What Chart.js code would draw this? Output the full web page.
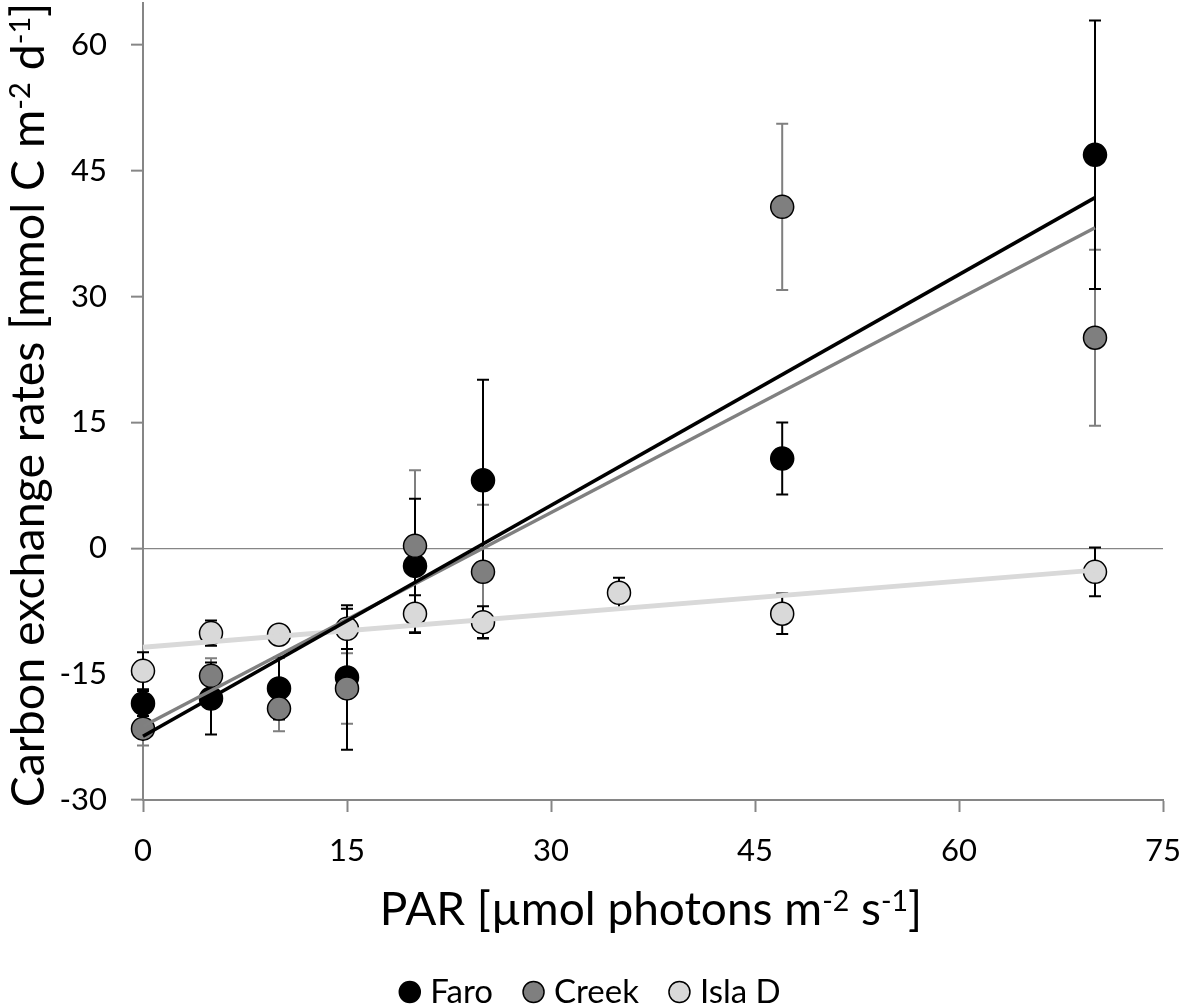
<!DOCTYPE html>
<html>
<head>
<meta charset="utf-8">
<script src="https://cdn.jsdelivr.net/npm/chart.js@4.4.1/dist/chart.umd.min.js"></script>
<style>
  html, body { margin: 0; padding: 0; background: #fff; }
  #wrap { width: 1184px; height: 1006px; }
</style>
</head>
<body>
<div id="wrap"><canvas id="chart" width="1184" height="1006"></canvas></div>
<script>
// Axis ticks
const xTicks = [0, 15, 30, 45, 60, 75];
const yTicks = [-30, -15, 0, 15, 30, 45, 60];

// Series (PAR vs carbon exchange, mean and error)
const seriesNames = ['Faro', 'Creek', 'Isla D'];

const faroX = [0, 5, 10, 15, 20, 25, 47, 70];
const faroY = [-18.5, -17.9, -16.7, -15.4, -2.1, 8.1, 10.7, 46.9];
const faroErr = [1.5, 4.3, 3.7, 8.6, 8.0, 12.0, 4.3, 16.0];

const creekX = [0, 5, 10, 15, 20, 25, 47, 70];
const creekY = [-21.5, -15.2, -19.1, -16.7, 0.3, -2.8, 40.7, 25.1];
const creekErr = [2.0, 2.1, 2.7, 4.2, 9.0, 8.0, 9.9, 10.5];

const islaX = [0, 5, 10, 15, 20, 25, 35, 47, 70];
const islaY = [-14.6, -10.1, -10.3, -9.6, -7.8, -8.8, -5.3, -7.8, -2.8];
const islaErr = [2.2, 1.5, 1.0, 2.4, 2.2, 1.9, 1.8, 2.4, 2.9];

// Linear trend lines (end points)
const trendX = [0, 70];
const faroTrend = [-22.4, 41.8];
const creekTrend = [-21.2, 38.2];
const islaTrend = [-11.8, -2.6];

const AXIS_GREY = '#868686';
const FONT = 'Lato, "Open Sans", sans-serif';

function toPoints(xs, ys) {
    return xs.map((x, i) => ({ x: x, y: ys[i] }));
}

// draws text with superscript parts, centred on cx
function drawRich(ctx, parts, cx, baseY, size) {
    let total = 0;
    parts.forEach(p => {
        ctx.font = (p.sup ? size * 0.62 : size) + 'px ' + FONT;
        p.w = ctx.measureText(p.t).width;
        total += p.w;
    });
    let x = cx - total / 2;
    ctx.textAlign = 'left';
    ctx.textBaseline = 'alphabetic';
    parts.forEach(p => {
        ctx.font = (p.sup ? size * 0.62 : size) + 'px ' + FONT;
        ctx.fillText(p.t, x, p.sup ? baseY - size * 0.3 : baseY);
        x += p.w;
    });
}

const errorBars = {
    id: 'errorBars',
    beforeDatasetsDraw(chart) {
        const ctx = chart.ctx;
        const xs = chart.scales.x, ys = chart.scales.y;
        const sets = [
            [creekX, creekY, creekErr, '#7f7f7f'],
            [faroX, faroY, faroErr, '#000000'],
            [islaX, islaY, islaErr, '#000000']
        ];
        ctx.save();
        ctx.lineWidth = 2;
        sets.forEach(([sx, sy, se, col]) => {
            ctx.strokeStyle = col;
            sx.forEach((xv, i) => {
                const px = xs.getPixelForValue(xv);
                const top = ys.getPixelForValue(sy[i] + se[i]);
                const bot = ys.getPixelForValue(sy[i] - se[i]);
                ctx.beginPath();
                ctx.moveTo(px, top); ctx.lineTo(px, bot);
                ctx.moveTo(px - 6, top); ctx.lineTo(px + 6, top);
                ctx.moveTo(px - 6, bot); ctx.lineTo(px + 6, bot);
                ctx.stroke();
            });
        });
        ctx.restore();
    }
};

const decorations = {
    id: 'decorations',
    afterDraw(chart) {
        const ctx = chart.ctx;
        ctx.save();
        ctx.fillStyle = '#000';

        // x axis title
        drawRich(ctx, [
            { t: 'PAR [\u00b5mol photons m' }, { t: '-2', sup: true },
            { t: ' s' }, { t: '-1', sup: true }, { t: ']' }
        ], 651, 925, 46);

        // y axis title
        ctx.save();
        ctx.translate(44, 405);
        ctx.rotate(-Math.PI / 2);
        drawRich(ctx, [
            { t: 'Carbon exchange rates [mmol C m' }, { t: '-2', sup: true },
            { t: ' d' }, { t: '-1', sup: true }, { t: ']' }
        ], 0, 0, 46.5);
        ctx.restore();

        // legend
        const fills = ['#000000', '#7f7f7f', '#d9d9d9'];
        const r = 10.5, gap = 10, itemGap = 30;
        ctx.font = '33px ' + FONT;
        const widths = seriesNames.map(n => ctx.measureText(n).width);
        let total = 0;
        widths.forEach((w, i) => { total += 2 * r + gap + w + (i < widths.length - 1 ? itemGap : 0); });
        let x = 590 - total / 2;
        const cy = 992;
        seriesNames.forEach((n, i) => {
            ctx.beginPath();
            ctx.arc(x + r, cy, r, 0, Math.PI * 2);
            ctx.fillStyle = fills[i];
            ctx.fill();
            ctx.lineWidth = 1.5;
            ctx.strokeStyle = '#000';
            ctx.stroke();
            ctx.fillStyle = '#000';
            ctx.textAlign = 'left';
            ctx.textBaseline = 'alphabetic';
            ctx.fillText(n, x + 2 * r + gap, 1003);
            x += 2 * r + gap + widths[i] + itemGap;
        });
        ctx.restore();
    }
};

function markerSet(label, xs, ys, fill, order) {
    return {
        label: label,
        data: toPoints(xs, ys),
        backgroundColor: fill,
        borderColor: '#000',
        borderWidth: 1.5,
        pointRadius: 11.5,
        order: order,
        clip: false
    };
}

function trendSet(label, ys, colour, width, order) {
    return {
        label: label,
        data: toPoints(trendX, ys),
        showLine: true,
        borderColor: colour,
        borderWidth: width,
        pointRadius: 0,
        fill: false,
        order: order,
        clip: false
    };
}

function noPadding(s) {
    s.paddingTop = 0; s.paddingBottom = 0; s.paddingLeft = 0; s.paddingRight = 0;
}

new Chart(document.getElementById('chart').getContext('2d'), {
    type: 'scatter',
    data: {
        datasets: [
            trendSet('Faro trend', faroTrend, '#000000', 3.6, -3),
            trendSet('Creek trend', creekTrend, '#808080', 3.4, -2),
            trendSet('Isla D trend', islaTrend, '#d9d9d9', 5, -1),
            markerSet('Isla D', islaX, islaY, '#d9d9d9', 1),
            markerSet('Creek', creekX, creekY, '#7f7f7f', 2),
            markerSet('Faro', faroX, faroY, '#000000', 3)
        ]
    },
    options: {
        responsive: false,
        devicePixelRatio: 1,
        animation: false,
        events: [],
        layout: { autoPadding: false, padding: { top: 3, right: 21, left: 0, bottom: 0 } },
        plugins: {
            legend: { display: false },
            tooltip: { enabled: false }
        },
        scales: {
            x: {
                type: 'linear',
                min: 0,
                max: 75,
                afterBuildTicks: s => { s.ticks = xTicks.map(v => ({ value: v })); },
                afterFit: s => { s.height = 206; noPadding(s); },
                grid: { drawOnChartArea: false, drawTicks: true, tickLength: 12, tickColor: AXIS_GREY, tickWidth: 2 },
                border: { color: AXIS_GREY, width: 2 },
                ticks: { color: '#000', padding: 20, font: { family: FONT, size: 31 } }
            },
            y: {
                type: 'linear',
                min: -30,
                max: 65,
                afterBuildTicks: s => { s.ticks = yTicks.map(v => ({ value: v })); },
                afterFit: s => { s.width = 143; noPadding(s); },
                grid: {
                    color: c => (c.tick && c.tick.value === 0) ? AXIS_GREY : 'rgba(0,0,0,0)',
                    lineWidth: 1.3,
                    drawTicks: true,
                    tickLength: 12,
                    tickColor: AXIS_GREY,
                    tickWidth: 2
                },
                border: { color: AXIS_GREY, width: 2 },
                ticks: { color: '#000', padding: 24, font: { family: FONT, size: 31 } }
            }
        }
    },
    plugins: [errorBars, decorations]
});
</script>
</body>
</html>
